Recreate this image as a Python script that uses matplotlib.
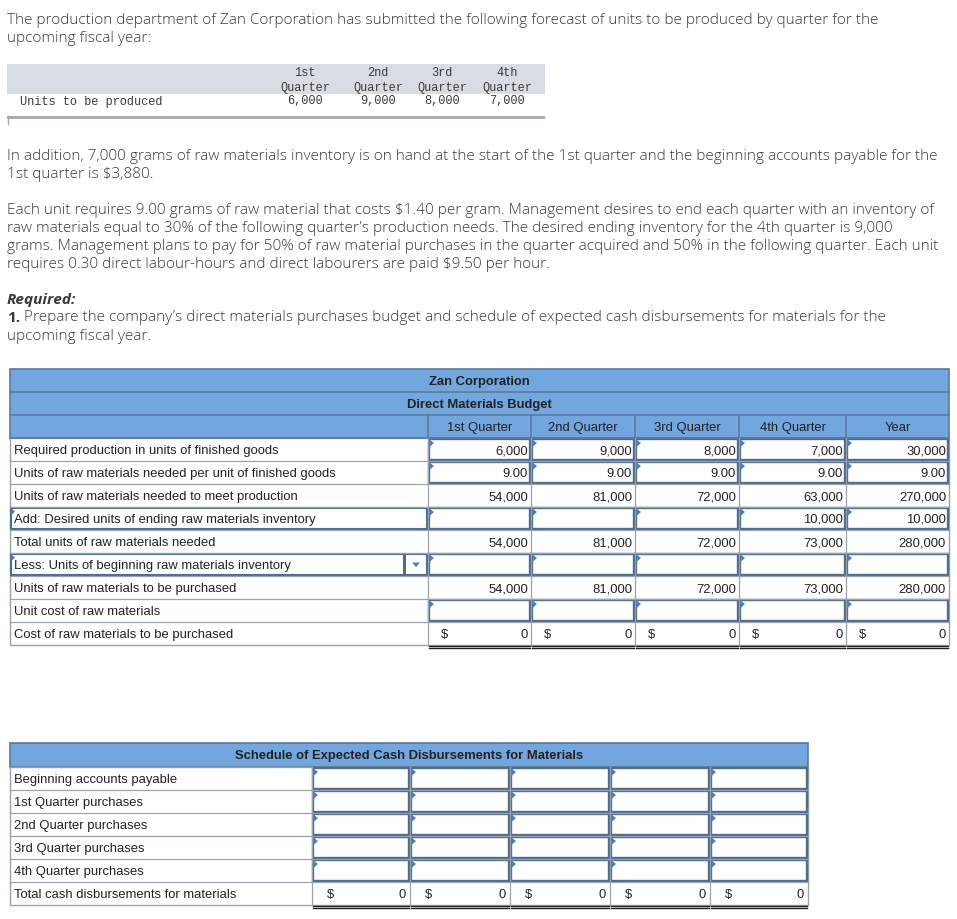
import matplotlib
matplotlib.use("Agg")
import matplotlib.pyplot as plt
from matplotlib.patches import Rectangle, Polygon

# ---------------- data ----------------
intro_lines = [
    "The production department of Zan Corporation has submitted the following forecast of units to be produced by quarter for the",
    "upcoming fiscal year:",
]
forecast_quarters = [("1st", "Quarter"), ("2nd", "Quarter"), ("3rd", "Quarter"), ("4th", "Quarter")]
units_to_be_produced = [6000, 9000, 8000, 7000]

para2_lines = [
    "In addition, 7,000 grams of raw materials inventory is on hand at the start of the 1st quarter and the beginning accounts payable for the",
    "1st quarter is $3,880.",
]
para3_lines = [
    "Each unit requires 9.00 grams of raw material that costs $1.40 per gram. Management desires to end each quarter with an inventory of",
    "raw materials equal to 30% of the following quarter\u2019s production needs. The desired ending inventory for the 4th quarter is 9,000",
    "grams. Management plans to pay for 50% of raw material purchases in the quarter acquired and 50% in the following quarter. Each unit",
    "requires 0.30 direct labour-hours and direct labourers are paid $9.50 per hour.",
]
required_title = "Required:"
required_num = "1."
required_lines = [
    " Prepare the company\u2019s direct materials purchases budget and schedule of expected cash disbursements for materials for the",
    "upcoming fiscal year.",
]

budget_company = "Zan Corporation"
budget_title = "Direct Materials Budget"
budget_columns = ["1st Quarter", "2nd Quarter", "3rd Quarter", "4th Quarter", "Year"]
budget_labels = [
    "Required production in units of finished goods",
    "Units of raw materials needed per unit of finished goods",
    "Units of raw materials needed to meet production",
    "Add: Desired units of ending raw materials inventory",
    "Total units of raw materials needed",
    "Less: Units of beginning raw materials inventory",
    "Units of raw materials to be purchased",
    "Unit cost of raw materials",
    "Cost of raw materials to be purchased",
]
required_production = [6000, 9000, 8000, 7000, 30000]
grams_per_unit = [9.00, 9.00, 9.00, 9.00, 9.00]
needed_for_production = [54000, 81000, 72000, 63000, 270000]
desired_ending_inventory = [None, None, None, 10000, 10000]
total_needed = [54000, 81000, 72000, 73000, 280000]
beginning_inventory = [None, None, None, None, None]
to_be_purchased = [54000, 81000, 72000, 73000, 280000]
unit_cost = [None, None, None, None, None]
cost_of_purchases = [0, 0, 0, 0, 0]
budget_input_rows = [0, 1, 3, 5, 7]

cash_title = "Schedule of Expected Cash Disbursements for Materials"
cash_labels = [
    "Beginning accounts payable",
    "1st Quarter purchases",
    "2nd Quarter purchases",
    "3rd Quarter purchases",
    "4th Quarter purchases",
    "Total cash disbursements for materials",
]
cash_totals = [0, 0, 0, 0, 0]

# ---------------- styling ----------------
W, H = 957, 919
fig = plt.figure(figsize=(W / 100, H / 100), dpi=100)
ax = fig.add_axes([0, 0, 1, 1])
ax.set_xlim(0, W)
ax.set_ylim(H, 0)
ax.axis("off")

PARA_FONT = "Open Sans"
TAB_FONT = "Liberation Sans"
MONO_FONT = "Liberation Mono"
TXT = "#3a3a3a"
TTXT = "#222222"
HEAD_BLUE = "#72A6DF"
HEAD_EDGE = "#5C7896"
GRID = "#9AA3AD"
INPUT_EDGE = "#4E6C8F"
TRI = "#4F7FB8"
TS = 9.35      # table font size
DY = 1.5       # vertical text nudge inside table cells
MS = 8.6       # monospace size

fig.canvas.draw()
renderer = fig.canvas.get_renderer()

# size paragraph font so the widest line matches the reference width
probe = ax.text(0, 0, para3_lines[2], fontsize=10, family=PARA_FONT, fontweight="light")
w10 = probe.get_window_extent(renderer).width
probe.remove()
PSIZE = 10 * 931.0 / w10


def para(y, s, weight="light", **kw):
    return ax.text(7, y + 2, s, fontsize=PSIZE, family=PARA_FONT, color=TXT,
                   va="center", ha="left", fontweight=weight, **kw)


for i, s in enumerate(intro_lines):
    para(18 + 18 * i, s)
for i, s in enumerate(para2_lines):
    para(155 + 18 * i, s)
for i, s in enumerate(para3_lines):
    para(209 + 18 * i, s)
para(298, required_title, weight="bold", style="italic")
t1 = para(316, required_num, weight="bold")
ax.annotate(required_lines[0], xy=(1, 0), xycoords=t1, va="bottom", ha="left",
            fontsize=PSIZE, family=PARA_FONT, color=TXT, fontweight="light")
para(334, required_lines[1])

# ---------------- forecast table ----------------
ax.add_patch(Rectangle((7, 64), 538, 30, facecolor="#D8DDE5", edgecolor="none"))
fq_x = [305, 378, 442, 507]
for x, (a, b), v in zip(fq_x, forecast_quarters, units_to_be_produced):
    ax.text(x, 72.5, a, fontsize=MS, family=MONO_FONT, color=TXT, ha="center", va="center")
    ax.text(x, 87.5, b, fontsize=MS, family=MONO_FONT, color=TXT, ha="center", va="center")
    ax.text(x, 101.5, f"{v:,}", fontsize=MS, family=MONO_FONT, color=TXT, ha="center", va="center")
ax.text(20, 101.5, "Units to be produced", fontsize=MS, family=MONO_FONT, color=TXT, ha="left", va="center")
ax.add_patch(Rectangle((7, 116), 538, 2.5, facecolor="#A9ADB3", edgecolor="none"))
ax.plot([7.5, 7.5], [116, 124], color="#A9ADB3", lw=1)


# ---------------- helpers ----------------
def input_cell(x0, x1, y0, y1):
    ax.add_patch(Rectangle((x0 + 1, y0 + 1), x1 - x0 - 2, y1 - y0 - 2, facecolor="white",
                           edgecolor=INPUT_EDGE, lw=1.7))
    ax.add_patch(Polygon([[x0 + 1.5, y0 + 1.5], [x0 + 1.5, y0 + 9], [x0 + 6, y0 + 5]],
                         closed=True, facecolor=TRI, edgecolor="none"))


def fmt(v):
    if v is None:
        return ""
    if isinstance(v, float):
        return f"{v:.2f}"
    return f"{v:,}"


def ttext(x, y, s, **kw):
    kw.setdefault("ha", "left")
    return ax.text(x, y + DY, s, fontsize=TS, family=TAB_FONT, color=TTXT, va="center", **kw)


# ---------------- budget table ----------------
bx = [10, 428, 531, 635, 739, 846, 949]
by = [369 + 23 * i for i in range(13)]
ax.add_patch(Rectangle((bx[0], by[0]), bx[-1] - bx[0], by[3] - by[0], facecolor=HEAD_BLUE,
                       edgecolor=HEAD_EDGE, lw=1.2))
for yy in (by[1], by[2], by[3]):
    ax.plot([bx[0], bx[-1]], [yy, yy], color=HEAD_EDGE, lw=1.1)
for xx in bx[1:-1]:
    ax.plot([xx, xx], [by[2], by[3]], color=HEAD_EDGE, lw=1.1)
cx_title = (bx[1] + bx[2]) / 2
ttext(cx_title, (by[0] + by[1]) / 2, budget_company, fontweight="bold", ha="center")
ttext(cx_title, (by[1] + by[2]) / 2, budget_title, fontweight="bold", ha="center")
for j, c in enumerate(budget_columns):
    ttext((bx[j + 1] + bx[j + 2]) / 2, (by[2] + by[3]) / 2, c, ha="center")

budget_values = [required_production, grams_per_unit, needed_for_production,
                 desired_ending_inventory, total_needed, beginning_inventory,
                 to_be_purchased, unit_cost, cost_of_purchases]

ax.add_patch(Rectangle((bx[0], by[3]), bx[-1] - bx[0], by[-1] - by[3], facecolor="white",
                       edgecolor=GRID, lw=1.0))
for yy in by[4:-1]:
    ax.plot([bx[0], bx[-1]], [yy, yy], color=GRID, lw=0.9)
for xx in bx[1:-1]:
    ax.plot([xx, xx], [by[3], by[-1]], color=GRID, lw=0.9)

for i, (lab, vals) in enumerate(zip(budget_labels, budget_values)):
    y0, y1 = by[3 + i], by[4 + i]
    yc = (y0 + y1) / 2
    if i in (3, 5):
        right = 405 if i == 5 else bx[1]
        ax.add_patch(Rectangle((bx[0] + 1, y0 + 1), right - bx[0] - 2, y1 - y0 - 2,
                               facecolor="white", edgecolor=INPUT_EDGE, lw=1.5))
        ax.add_patch(Polygon([[bx[0] + 1.5, y0 + 1.5], [bx[0] + 1.5, y0 + 8], [bx[0] + 5, y0 + 4.5]],
                             closed=True, facecolor=TRI, edgecolor="none"))
        if i == 5:
            ax.add_patch(Rectangle((405, y0 + 1), bx[1] - 405 - 1, y1 - y0 - 2,
                                   facecolor="white", edgecolor=INPUT_EDGE, lw=1.5))
            ax.add_patch(Polygon([[412, yc - 2], [420, yc - 2], [416, yc + 2.5]],
                                 closed=True, facecolor="#4F7FB8", edgecolor="none"))
    ttext(14, yc, lab)
    for j, v in enumerate(vals):
        x0, x1 = bx[j + 1], bx[j + 2]
        if i in budget_input_rows:
            input_cell(x0, x1, y0, y1)
        if i == len(budget_labels) - 1:
            ttext(x0 + 17, yc, "$", ha="center")
            ax.plot([x0 + 1, x1 - 1], [y1 + 0.5, y1 + 0.5], color="#222222", lw=1.0)
            ax.plot([x0 + 1, x1 - 1], [y1 + 3, y1 + 3], color="#222222", lw=1.0)
        ttext(x1 - 3, yc, fmt(v), ha="right")

# ---------------- cash disbursement table ----------------
cx = [10, 312, 410, 510, 610, 710, 808]
cy = [743, 767, 790, 813, 836, 859, 882, 905]
ax.add_patch(Rectangle((cx[0], cy[0]), cx[-1] - cx[0], cy[1] - cy[0], facecolor=HEAD_BLUE,
                       edgecolor=HEAD_EDGE, lw=1.2))
ttext(409, (cy[0] + cy[1]) / 2, cash_title, fontweight="bold", ha="center")
ax.add_patch(Rectangle((cx[0], cy[1]), cx[-1] - cx[0], cy[-1] - cy[1], facecolor="white",
                       edgecolor=GRID, lw=1.0))
for yy in cy[2:-1]:
    ax.plot([cx[0], cx[-1]], [yy, yy], color=GRID, lw=0.9)
for xx in cx[1:-1]:
    ax.plot([xx, xx], [cy[1], cy[-1]], color=GRID, lw=0.9)

for i, lab in enumerate(cash_labels):
    y0, y1 = cy[1 + i], cy[2 + i]
    yc = (y0 + y1) / 2
    ttext(14, yc, lab)
    for j in range(5):
        x0, x1 = cx[j + 1], cx[j + 2]
        if i < len(cash_labels) - 1:
            input_cell(x0, x1, y0, y1)
        else:
            ttext(x0 + 19, yc, "$", ha="center")
            ttext(x1 - 4, yc, fmt(cash_totals[j]), ha="right")
            ax.plot([x0 + 1, x1 - 1], [y1 + 0.5, y1 + 0.5], color="#222222", lw=1.0)
            ax.plot([x0 + 1, x1 - 1], [y1 + 3, y1 + 3], color="#222222", lw=1.0)

fig.savefig("out.png", dpi=100, facecolor="white")
